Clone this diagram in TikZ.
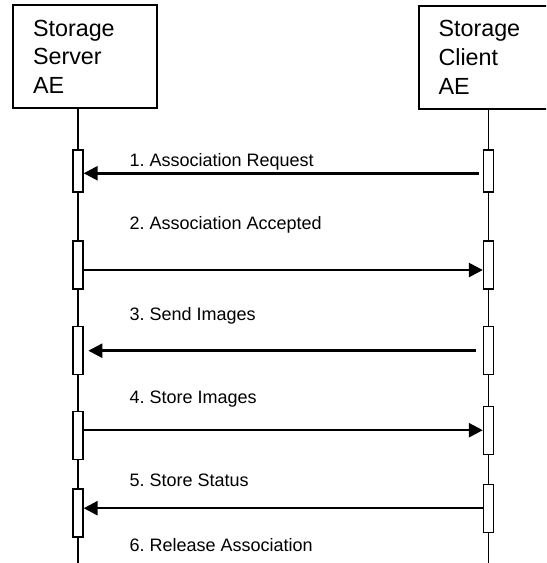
\documentclass[tikz,border=0pt]{standalone}
\usepackage{fontspec}
\setmainfont{Liberation Sans}
\frenchspacing
\usetikzlibrary{arrows.meta}

\begin{document}
\begin{tikzpicture}[x=0.75pt,y=-0.75pt]
\tikzset{>={Triangle[width=10.5pt,length=10.5pt]}}
\tikzstyle{actor}=[draw, line width=1.5pt, inner sep=0pt, minimum width=108pt, minimum height=77.6pt, text width=78pt, align=left, font=\fontsize{17.5}{21.5}\selectfont]
\tikzstyle{act}=[draw, fill=white, line width=1pt, inner sep=0pt, minimum width=7.5pt, minimum height=36pt]
\tikzstyle{life}=[line width=1pt]
\tikzstyle{msg}=[->, line width=1.9pt]
\tikzstyle{lbl}=[anchor=base west, inner sep=0pt, font=\fontsize{13.5}{15}\selectfont]

\clip (0,0) rectangle (546,563);

% the two AEs
\node[actor](srv) at (85,56.75){Storage\\Server\\AE};
\node[actor](cli) at (490.5,57.5){Storage\\Client\\AE};

\coordinate (srvend) at (78,563);
\coordinate (cliend) at (488.5,563);
\draw[life] (srv.south -| srvend) -- (srvend);
\draw[life] (cli.south -| cliend) -- (cliend);

% activations
\node[act, minimum height=31.5pt](s1) at (78,171){};
\node[act, minimum height=31.5pt](c1) at (488.5,171){};
\node[act](s2) at (78,265){};
\node[act](c2) at (488.5,265){};
\node[act](s3) at (78,350.7){};
\node[act](c3) at (488.5,350.7){};
\node[act](s4) at (78,435.3){};
\node[act](c4) at (488.5,430.2){};
\node[act](s5) at (78,513){};
\node[act](c5) at (488.5,508.2){};

% messages
\node[lbl](l1) at (129.4,166.7){1. Association Request};
\node[lbl](l2) at (129.4,229.3){2. Association Accepted};
\node[lbl](l3) at (129.4,320.7){3. Send Images};
\node[lbl](l4) at (129.4,403.3){4. Store Images};
\node[lbl](l5) at (129.4,486.7){5. Store Status};
\node[lbl](l6) at (129.4,551.7){6. Release Association};

\draw[msg, shorten <=3pt] ([yshift=-1.7pt]c1.west) -- ([yshift=-1.7pt]s1.east);
\draw[msg] ([yshift=-3.75pt]s2.east) -- ([yshift=-3.75pt]c2.west);
\draw[msg, shorten <=5pt, shorten >=3.5pt] (c3.west) -- (s3.east);
\draw[msg] (s4.east |- c4.west) -- (c4.west);
\draw[msg] (c5.west) -- (s5.east |- c5.west);
\end{tikzpicture}
\end{document}
